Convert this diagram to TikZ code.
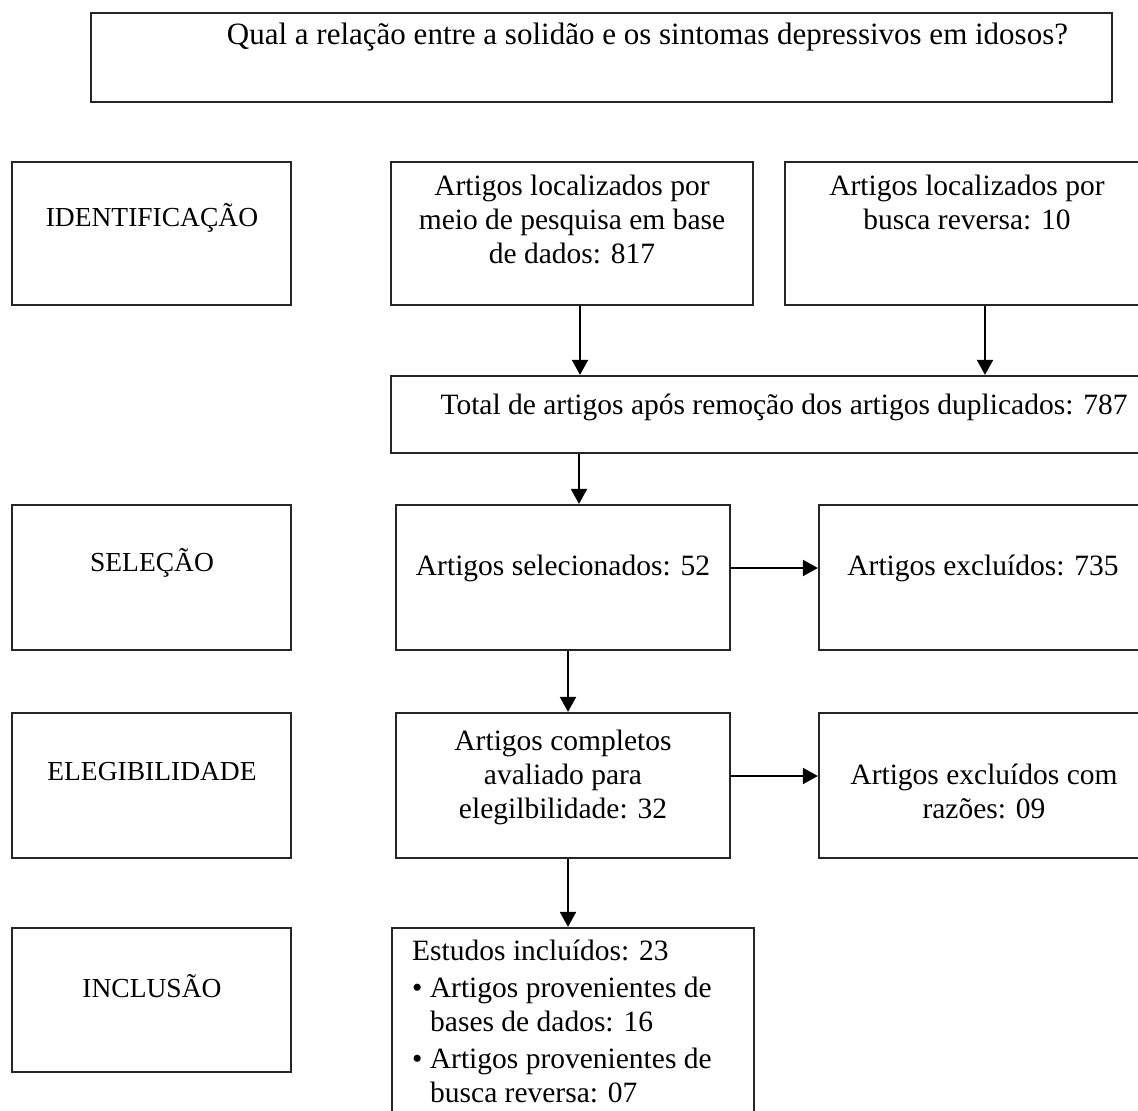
\documentclass[tikz,border=0pt]{standalone}
\usepackage{fontspec}
\setmainfont{Liberation Serif}
\usetikzlibrary{arrows.meta}
\begin{document}
\begin{tikzpicture}[x=1pt,y=-1pt,
  box/.style={draw=black!85,line width=2.2pt,rectangle,inner sep=0pt},
  txt/.style={inner sep=0pt,font=\fontsize{29.5}{34}\selectfont,align=center},
  lbl/.style={inner sep=0pt,font=\fontsize{27.5}{32}\selectfont},
  arr/.style={line width=2pt,-{Triangle[length=15pt,width=16pt]}}]
\useasboundingbox (0,0) rectangle (1138,1111);
\clip (0,0) rectangle (1138,1111);
% boxes
\node[box,minimum width=1021pt,minimum height=89pt] (q) at (601.5,57.5) {};
\node[box,minimum width=279pt,minimum height=143pt] (id) at (151.5,233.5) {};
\node[box,minimum width=279pt,minimum height=145pt] (sl) at (151.5,577.5) {};
\node[box,minimum width=279pt,minimum height=145pt] (el) at (151.5,785.5) {};
\node[box,minimum width=279pt,minimum height=144pt] (in) at (151.5,1000) {};
\node[box,minimum width=362pt,minimum height=143pt] (db) at (572,233.5) {};
\node[box,minimum width=365pt,minimum height=143pt] (rev) at (967.5,233.5) {};
\node[box,minimum width=786pt,minimum height=77pt] (tot) at (784,414.5) {};
\node[box,minimum width=334pt,minimum height=145pt] (selb) at (563,577.5) {};
\node[box,minimum width=331pt,minimum height=145pt] (exa) at (984.5,577.5) {};
\node[box,minimum width=334pt,minimum height=145pt] (comp) at (563,785.5) {};
\node[box,minimum width=331pt,minimum height=145pt] (exb) at (984.5,785.5) {};
\node[box,minimum width=362pt,minimum height=200pt] (incb) at (573,1028) {};
% texts
\node[txt,font=\fontsize{31}{34}\selectfont] (tq) at (647.5,37) {Qual a relação entre a solidão e os sintomas depressivos em idosos?};
\node[lbl] (tid) at (152,218) {IDENTIFICAÇÃO};
\node[lbl] (tsl) at (152,563) {SELEÇÃO};
\node[lbl] (tel) at (152,772) {ELEGIBILIDADE};
\node[lbl] (tin) at (152,986) {INCLUSÃO};
\node[txt] (tdb) at (572,219) {Artigos localizados por\\meio de pesquisa em base\\de dados: 817};
\node[txt] (trev) at (967,202) {Artigos localizados por\\busca reversa: 10};
\node[txt] (ttot) at (784,407) {Total de artigos após remoção dos artigos duplicados: 787};
\node[txt] (tselb) at (563,568) {Artigos selecionados: 52};
\node[txt] (texa) at (983,568) {Artigos excluídos: 735};
\node[txt] (tcomp) at (563,777) {Artigos completos\\avaliado para\\elegilbilidade: 32};
\node[txt] (texb) at (984,791) {Artigos excluídos com\\razões: 09};
\node[txt,align=left,anchor=north west] (tinc) at (412,940) {Estudos incluídos: 23\\[3pt]
\textbullet\ Artigos provenientes de\\\hspace*{18pt}bases de dados: 16\\[3pt]
\textbullet\ Artigos provenientes de\\\hspace*{18pt}busca reversa: 07};
% arrows
\draw[arr] ([xshift=8pt]db.south) -- ([xshift=8pt]db.south |- tot.north);
\draw[arr] ([xshift=17.5pt]rev.south) -- ([xshift=17.5pt]rev.south |- tot.north);
\draw[arr] ([xshift=16pt]selb.north |- tot.south) -- ([xshift=16pt]selb.north);
\draw[arr] ([xshift=5pt]selb.south) -- ([xshift=5pt]comp.north);
\draw[arr] ([yshift=9.5pt]selb.east) -- ([yshift=9.5pt]exa.west);
\draw[arr] ([yshift=9.5pt]comp.east) -- ([yshift=9.5pt]exb.west);
\draw[arr] ([xshift=5pt]comp.south) -- ([xshift=5pt]comp.south |- incb.north);
\end{tikzpicture}
\end{document}
